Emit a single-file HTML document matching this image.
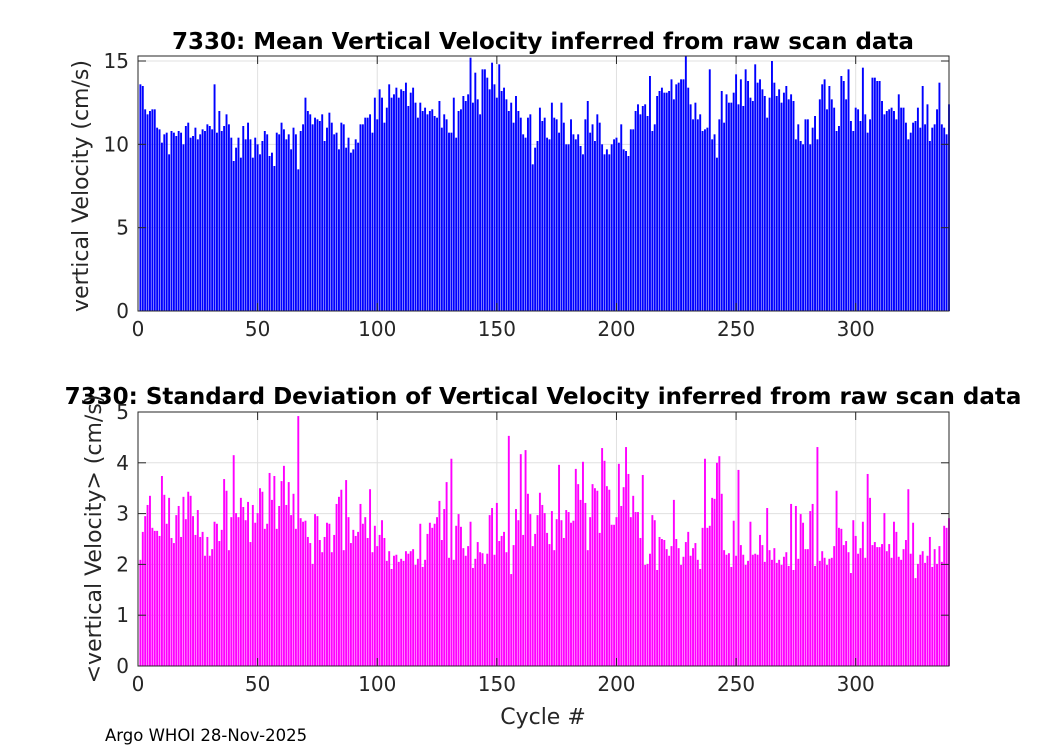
<!DOCTYPE html>
<html><head><meta charset="utf-8"><style>
body{margin:0;background:#fff;}
svg{display:block;font-family:"DejaVu Sans","Liberation Sans",sans-serif;}
</style></head><body>
<svg id="c" width="1050" height="750">
<rect width="1050" height="750" fill="#fff"/>
<text x="543" y="49" text-anchor="middle" font-weight="bold" font-size="23" fill="#000">7330: Mean Vertical Velocity inferred from raw scan data</text>
<text x="543" y="404" text-anchor="middle" font-weight="bold" font-size="23" fill="#000">7330: Standard Deviation of Vertical Velocity inferred from raw scan data</text>
<text transform="translate(88,186) rotate(-90)" text-anchor="middle" font-size="22" fill="#262626">vertical Velocity (cm/s)</text>
<text transform="translate(101,539) rotate(-90)" text-anchor="middle" font-size="22" fill="#262626">&lt;vertical Velocity&gt; (cm/s)</text>
<text x="543" y="724" text-anchor="middle" font-size="22" fill="#262626">Cycle #</text>
<text x="105" y="741" font-size="16.5" fill="#000">Argo WHOI 28-Nov-2025</text>
<g id="top"></g>
<g id="bot"></g>
</svg>
<script>
const meanVel = [13.6,13.5,12.1,11.8,12.0,12.1,12.1,11.0,10.9,10.1,10.6,10.7,9.4,10.8,10.7,10.5,10.8,10.7,10.0,11.1,11.3,10.4,10.5,11.0,10.3,10.6,10.9,10.8,11.2,11.1,10.9,13.6,10.7,12.0,10.8,11.1,11.8,11.2,10.4,9.0,9.8,10.4,9.2,11.1,10.3,11.3,10.3,9.2,10.4,10.0,9.4,10.2,10.8,10.6,9.3,9.5,8.7,10.7,10.6,11.3,10.9,10.3,10.6,9.7,11.0,10.6,8.5,10.8,11.2,12.8,12.0,11.8,11.2,11.6,11.5,11.4,11.8,10.2,11.0,11.9,11.3,10.6,10.7,9.7,11.3,11.2,9.8,
10.4,9.5,9.7,10.3,10.1,11.2,11.2,11.6,11.6,11.8,10.7,12.8,11.5,13.3,12.8,11.3,12.2,13.6,12.8,13.0,13.4,12.8,13.3,13.2,13.7,12.3,13.1,13.4,12.5,11.6,12.5,12.0,12.2,11.8,12.0,12.1,11.7,11.6,12.6,11.0,11.8,11.5,10.7,10.7,12.8,10.4,12.0,12.1,12.9,12.6,13.0,15.2,12.5,14.3,12.7,11.8,14.5,14.5,14.0,13.3,14.9,13.6,12.8,14.8,13.2,13.4,12.7,12.0,12.5,11.3,12.9,12.0,11.6,10.6,10.4,11.6,11.8,8.8,9.8,10.2,12.2,11.4,11.6,10.4,10.3,12.5,
11.6,11.5,10.7,12.5,11.3,10.0,10.0,11.5,10.6,10.3,10.6,9.9,9.4,11.5,12.6,10.7,11.2,10.2,11.8,11.3,10.0,9.4,9.7,9.4,10.0,10.3,10.4,10.1,11.2,9.7,9.6,9.3,10.9,10.9,12.0,12.4,11.8,12.3,12.4,11.7,14.1,10.8,11.2,12.9,13.2,13.4,13.1,13.1,13.2,13.9,12.7,13.6,13.7,13.9,13.9,15.3,13.4,12.4,11.5,12.5,11.5,11.8,10.8,10.9,11.0,14.5,10.3,10.6,9.2,11.5,13.2,11.3,13.0,12.5,12.5,13.1,14.2,12.4,13.9,12.3,14.5,13.8,12.8,12.6,14.8,13.7,
13.9,13.3,12.9,11.6,12.8,15.0,13.7,12.9,13.3,12.5,13.1,13.5,12.7,13.0,12.6,10.3,11.2,10.2,10.0,11.5,11.5,10.0,11.0,11.7,10.3,12.7,13.6,13.9,12.1,13.5,12.7,12.2,10.8,11.1,14.1,13.8,12.7,14.5,11.4,10.8,12.2,12.1,11.4,14.6,11.8,10.7,11.5,14.0,14.0,13.8,13.8,12.6,11.8,12.0,12.1,12.2,12.0,11.5,13.0,12.2,12.2,11.3,10.3,10.7,11.3,11.4,12.2,11.0,13.5,11.2,12.4,10.2,11.0,11.2,12.1,13.7,11.2,11.0,10.6,12.4];
const stdVel = [2.09,2.64,2.95,3.17,3.35,2.72,2.66,2.66,2.56,3.74,3.37,2.80,3.31,2.52,2.42,2.97,3.15,2.54,3.33,2.89,3.43,3.35,2.95,2.58,3.07,2.54,2.64,2.17,2.54,2.17,2.30,2.84,2.80,2.46,2.68,3.68,3.45,2.28,2.93,4.15,3.01,2.93,3.31,3.13,2.87,3.23,2.44,3.17,2.82,3.01,3.50,3.43,2.70,2.80,3.80,3.27,3.74,2.70,3.15,3.64,3.94,3.17,3.62,2.97,3.39,2.70,4.92,2.91,2.84,2.86,2.54,2.42,2.01,2.99,2.95,2.48,2.24,2.54,2.82,2.80,2.24,2.58,3.19,3.33,3.47,2.28,3.66,
2.93,2.42,2.68,2.56,2.64,3.19,2.80,2.93,2.52,3.48,2.24,2.76,2.36,2.58,2.87,2.52,2.07,2.26,1.91,2.17,2.19,2.05,2.11,2.07,2.26,2.21,2.26,2.30,1.99,2.11,2.80,1.95,2.09,2.60,2.82,2.72,2.80,2.93,3.25,2.48,3.09,3.62,2.13,4.08,2.09,2.76,2.99,2.74,2.32,2.17,2.36,2.84,1.93,2.11,2.44,2.24,2.22,2.01,2.21,2.97,3.11,2.19,3.21,2.46,2.56,2.64,2.24,4.53,1.81,2.38,3.09,2.87,4.17,2.58,4.25,3.39,2.99,2.36,2.60,2.97,3.41,3.17,3.01,2.62,2.40,3.05,
2.28,2.89,3.96,2.87,2.52,3.07,3.03,2.82,2.86,3.88,3.58,3.27,4.02,3.21,2.28,2.93,3.58,3.50,3.45,2.62,4.29,4.04,3.54,3.47,2.78,2.78,2.93,3.98,3.15,3.52,4.31,3.78,2.93,3.35,3.03,3.03,2.52,3.76,1.99,2.01,2.21,2.97,2.87,1.89,2.54,2.50,2.48,2.30,2.17,2.36,3.27,2.50,2.32,1.99,2.15,2.44,2.64,2.17,2.32,2.42,2.09,1.91,2.72,4.08,2.72,2.76,3.31,3.29,4.00,4.13,3.39,2.28,2.19,2.22,1.95,2.86,2.17,3.86,2.38,2.19,1.99,2.07,2.84,2.19,2.21,2.19,
2.58,2.38,2.05,3.11,2.28,2.09,2.32,2.03,2.09,1.99,2.15,2.24,1.97,3.19,1.89,3.15,2.11,2.99,2.82,2.30,2.30,3.05,3.19,1.97,4.31,2.07,2.26,2.13,1.99,2.11,2.13,2.36,3.45,2.72,2.70,2.38,2.46,2.24,1.83,2.87,2.56,2.21,2.32,2.84,2.13,3.78,3.31,2.38,2.44,2.34,2.34,2.40,3.01,2.26,2.40,2.13,2.84,2.64,2.15,2.09,2.30,2.48,3.48,2.21,2.82,1.73,2.01,2.19,2.26,2.03,2.17,2.54,1.95,2.30,2.01,2.36,2.05,2.76,2.72,2.91];
const xTicks = [0,50,100,150,200,250,300];
const topYTicks = [0,5,10,15];
const botYTicks = [0,1,2,3,4,5];
const xMax = 339;

const NS = "http://www.w3.org/2000/svg";
function mk(tag, attrs, parent){const e=document.createElementNS(NS,tag);for(const k in attrs)e.setAttribute(k,attrs[k]);parent.appendChild(e);return e;}

function panel(g, L, T, W, H, ymax, vals, yTicks, color, nm){
  const xs = v => L + v / xMax * W;
  const ys = v => T + H - v / ymax * H;
  mk('rect',{x:L,y:T,width:W,height:H,fill:'#fff'},g);
  for(const t of xTicks){const l=mk('line',{x1:xs(t),x2:xs(t),y1:T,y2:T+H,stroke:'#e0e0e0','stroke-width':1},g);
    
    }
  for(const t of yTicks){const l=mk('line',{x1:L,x2:L+W,y1:ys(t),y2:ys(t),stroke:'#e0e0e0','stroke-width':1},g);
    
    }
  const bw = 0.8 * W / xMax;
  vals.forEach((v,i)=>{
    const r=mk('rect',{x:xs(i+1)-bw/2,y:ys(v),width:bw,height:ys(0)-ys(v),fill:color},g);
    
    
  });
  const fr=mk('rect',{x:L,y:T,width:W,height:H,fill:'none',stroke:'#262626','stroke-width':1},g);
  
  
  for(const t of xTicks){
    mk('line',{x1:xs(t),x2:xs(t),y1:T+H,y2:T+H-8,stroke:'#262626'},g);
    mk('line',{x1:xs(t),x2:xs(t),y1:T,y2:T+8,stroke:'#262626'},g);
    const tx=mk('text',{x:xs(t),y:T+H+25,'text-anchor':'middle','font-size':20,fill:'#262626'},g);
    tx.textContent=t;
    
    
  }
  for(const t of yTicks){
    mk('line',{x1:L,x2:L+8,y1:ys(t),y2:ys(t),stroke:'#262626'},g);
    mk('line',{x1:L+W,x2:L+W-8,y1:ys(t),y2:ys(t),stroke:'#262626'},g);
    const tx=mk('text',{x:L-9,y:ys(t)+7,'text-anchor':'end','font-size':20,fill:'#262626'},g);
    tx.textContent=t;
    
    
  }
}
panel(document.getElementById('top'),138,56,811,255,15.3,meanVel,topYTicks,'#0000ff','top');
panel(document.getElementById('bot'),138,412,811,254,5,stdVel,botYTicks,'#ff00ff','bottom');
</script>
</body></html>
